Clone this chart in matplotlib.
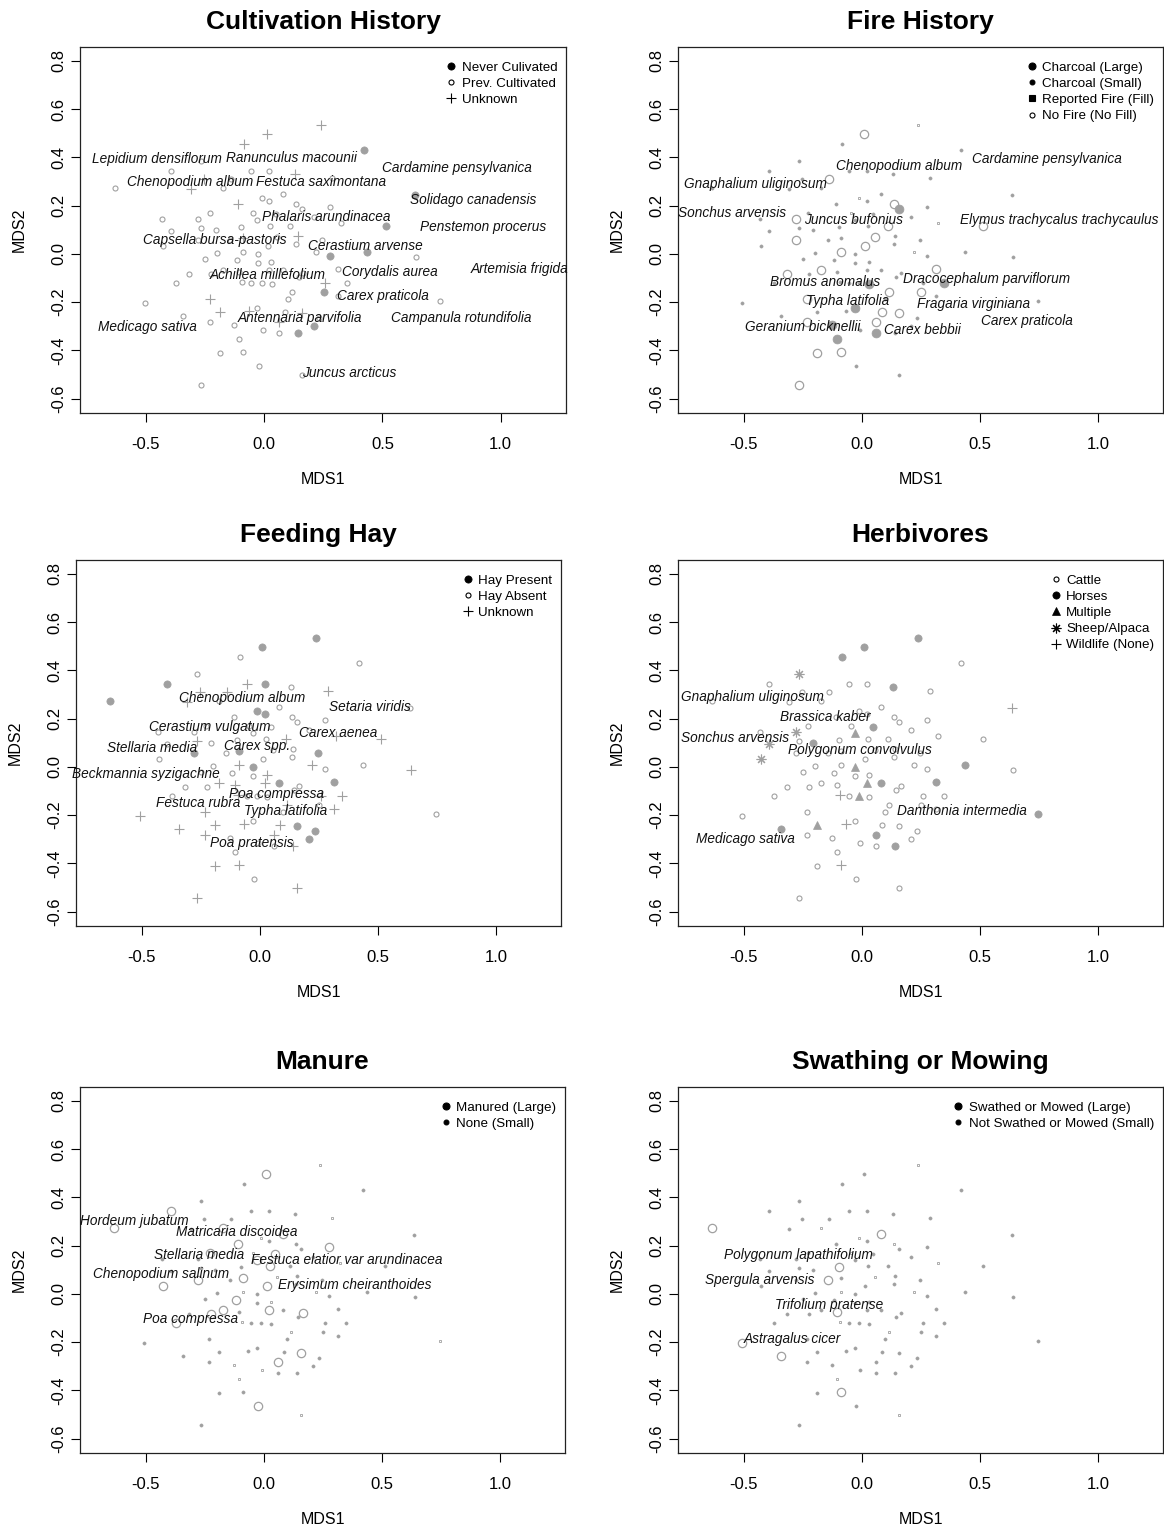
import matplotlib.pyplot as plt
from matplotlib.lines import Line2D

plt.rcParams['font.family'] = ['Liberation Sans', 'DejaVu Sans']

# site scores (MDS1, MDS2), same ordination in every panel
site_x = [0.240, 0.010, -0.085, 0.422, -0.267, -0.394, -0.054, 0.020, 0.130, -0.255,
          -0.140, 0.288, -0.633, -0.309, -0.175, 0.080, -0.011, 0.020, 0.636, -0.109,
          0.135, 0.159, 0.276, -0.230, -0.048, -0.432, -0.279, 0.049, -0.030, 0.209,
          0.324, 0.513, -0.097, 0.025, 0.110, -0.394, -0.267, -0.206, -0.279, -0.145,
          -0.089, 0.056, 0.141, 0.245, -0.427, 0.014, 0.135, -0.199, -0.089, -0.028,
          0.220, 0.276, 0.436, 0.642, -0.250, -0.116, -0.028, 0.030, -0.316, -0.226,
          -0.175, -0.107, 0.020, 0.080, 0.166, 0.145, 0.313, -0.372, -0.093, -0.054,
          -0.011, 0.031, 0.258, 0.350, 0.117, 0.251, 0.099, 0.313, -0.231, -0.506,
          0.745, -0.344, -0.189, -0.066, -0.030, 0.086, 0.159, -0.231, 0.062, -0.127,
          -0.006, 0.233, 0.209, 0.062, 0.141, -0.107, -0.189, -0.090, -0.023, 0.159, -0.267]
site_y = [0.534, 0.498, 0.456, 0.431, 0.384, 0.343, 0.344, 0.344, 0.332, 0.308,
          0.308, 0.312, 0.271, 0.267, 0.271, 0.249, 0.230, 0.220, 0.242, 0.206,
          0.206, 0.184, 0.194, 0.170, 0.169, 0.145, 0.145, 0.163, 0.140, 0.152,
          0.127, 0.115, 0.111, 0.116, 0.115, 0.093, 0.106, 0.100, 0.059, 0.059,
          0.065, 0.071, 0.075, 0.055, 0.033, 0.033, 0.039, 0.003, 0.008, -0.003,
          0.008, -0.008, 0.008, -0.014, -0.021, -0.026, -0.039, -0.033, -0.082, -0.084,
          -0.066, -0.076, -0.068, -0.068, -0.080, -0.097, -0.064, -0.122, -0.116, -0.122,
          -0.122, -0.124, -0.122, -0.122, -0.158, -0.158, -0.189, -0.176, -0.188, -0.203,
          -0.194, -0.260, -0.241, -0.239, -0.224, -0.241, -0.246, -0.282, -0.283, -0.296,
          -0.314, -0.265, -0.301, -0.329, -0.330, -0.355, -0.413, -0.408, -0.467, -0.503, -0.545]

# per-site class codes for each panel
cultivation = ("UUUNPPPPUU" "PPPUPPPPNU" "PPPPPPPPPP" "PNPPPPPPPP" "UPUPPPPPPP"
               "PNNPPPPPPP" "PPPPPPPPPP" "PPUPPNPPUP" "PPUUPPUPUP" "PPNPNPPPPPP")
fire = ("qLssssssss" "Lsssssqsss" "LFssqsLsss" "qLssLsssLs" "sLsssLssLs"
        "qsssssssLs" "LsssssLsss" "sFsFLLssLs" "ssssFLLLLF" "sssFsFLLssL")
hay = ("HHAAAHUHAU" "UUHUAAHHAA" "AAAAAAAAAA" "UUAAUAUAHA" "HAAHAAAAUH"
       "UAAUAAAUAA" "UUUHAAHAUA" "AAUUUAAUUU" "AUUUAUHUUA" "AHHAUAUUAUU")
herbivores = ("HHHCSCCCHC" "CCCCCCCCWC" "CCCCCCSHMC" "CCCCCSCHCC" "CCCCSCCCCM"
              "CCHCCCCCCC" "CCMHCCHCWC" "MCCCCCCCCC" "HHMWCCCCHC" "CCCCHCCWCCC")
manure = ("qOsssOssss" "sqOsOOqssO" "ssOOqssOOs" "qssOssssOs" "OqssOOssqs"
          "qssssOsqsO" "OsOsOssOqs" "ssssqsssss" "qsssssOsOq" "qssssqssOqs")
mowing = ("qsssssssss" "ssOsqOqsss" "qsssqsssss" "qsOssssssO" "sqssssssqs"
          "qsssssssss" "sOssssssqs" "ssssqssssO" "sOssssssss" "sssssqsOsqs")

# species labels (name, MDS1, MDS2)
cult_species = [("Lepidium densiflorum", -0.454, 0.391), ("Ranunculus macounii", 0.116, 0.395),
                ("Cardamine pensylvanica", 0.814, 0.354), ("Chenopodium album", -0.315, 0.296),
                ("Festuca saximontana", 0.240, 0.296), ("Solidago canadensis", 0.883, 0.221),
                ("Phalaris arundinacea", 0.264, 0.152), ("Penstemon procerus", 0.925, 0.113),
                ("Capsella bursa-pastoris", -0.207, 0.055), ("Cerastium arvense", 0.429, 0.033),
                ("Corydalis aurea", 0.532, -0.075), ("Artemisia frigida", 1.078, -0.065),
                ("Achillea millefolium", 0.014, -0.086), ("Carex praticola", 0.502, -0.174),
                ("Antennaria parvifolia", 0.150, -0.267), ("Campanula rotundifolia", 0.832, -0.267),
                ("Medicago sativa", -0.492, -0.303), ("Juncus arcticus", 0.360, -0.494)]
fire_species = [("Chenopodium album", 0.157, 0.364), ("Cardamine pensylvanica", 0.784, 0.391),
                ("Gnaphalium uliginosum", -0.453, 0.290), ("Sonchus arvensis", -0.549, 0.170),
                ("Juncus bufonius", -0.034, 0.142), ("Elymus trachycalus trachycaulus", 0.836, 0.138),
                ("Bromus anomalus", -0.157, -0.115), ("Dracocephalum parviflorum", 0.530, -0.106),
                ("Typha latifolia", -0.061, -0.194), ("Fragaria virginiana", 0.472, -0.210),
                ("Carex praticola", 0.701, -0.277), ("Geranium bicknellii", -0.251, -0.304),
                ("Carex bebbii", 0.258, -0.318)]
hay_species = [("Chenopodium album", -0.073, 0.286), ("Setaria viridis", 0.467, 0.249),
               ("Cerastium vulgatum", -0.213, 0.166), ("Carex aenea", 0.333, 0.138),
               ("Stellaria media", -0.456, 0.079), ("Carex spp.", -0.013, 0.087),
               ("Beckmannia syzigachne", -0.482, -0.032), ("Poa compressa", 0.071, -0.111),
               ("Festuca rubra", -0.260, -0.152), ("Typha latifolia", 0.111, -0.184),
               ("Poa pratensis", -0.032, -0.317)]
herb_species = [("Gnaphalium uliginosum", -0.464, 0.290), ("Brassica kaber", -0.155, 0.207),
                ("Sonchus arvensis", -0.537, 0.120), ("Polygonum convolvulus", -0.007, 0.069),
                ("Danthonia intermedia", 0.422, -0.184), ("Medicago sativa", -0.492, -0.300)]
manure_species = [("Hordeum jubatum", -0.549, 0.301), ("Matricaria discoidea", -0.113, 0.257),
                  ("Stellaria media", -0.274, 0.160), ("Festuca elatior var arundinacea", 0.353, 0.138),
                  ("Chenopodium salinum", -0.437, 0.082), ("Erysimum cheiranthoides", 0.384, 0.036),
                  ("Poa compressa", -0.312, -0.106)]
mow_species = [("Polygonum lapathifolium", -0.269, 0.160), ("Spergula arvensis", -0.433, 0.055),
               ("Trifolium pratense", -0.138, -0.047), ("Astragalus cicer", -0.296, -0.189)]

GREY = '#a0a0a0'
W, H = 1164, 1530


def mk(marker, ms, fill, color, mew=0.8):
    return dict(marker=marker, markersize=ms, markerfacecolor=color if fill else 'none',
                markeredgecolor=color, markeredgewidth=mew, linestyle='none')


def marks(color):
    return {'fill': mk('o', 5.2, True, color, 0.5),
            'open': mk('o', 3.6, False, color, 0.8),
            'plus': mk('+', 7.5, False, color, 0.8),
            'bigopen': mk('o', 6.0, False, color, 0.9),
            'bigfill': mk('o', 6.4, True, color, 0.5),
            'dot': mk('o', 2.3, True, color, 0.4),
            'sq': mk('s', 1.9, False, color, 0.6),
            'tri': mk('^', 5.6, True, color, 0.5),
            'ast': mk((8, 2, 0), 7.0, False, color, 0.8)}


pts = marks(GREY)
blk = marks('black')

panels = [
    ((80, 47, 566, 413), "Cultivation History", cultivation,
     {'N': 'fill', 'P': 'open', 'U': 'plus'}, cult_species,
     [("Never Culivated", blk['fill']), ("Prev. Cultivated", blk['open']), ("Unknown", blk['plus'])]),
    ((678, 47, 1163, 413), "Fire History", fire,
     {'L': 'bigopen', 'F': 'bigfill', 's': 'dot', 'q': 'sq'}, fire_species,
     [("Charcoal (Large)", mk('o', 5.0, True, 'black')), ("Charcoal (Small)", mk('o', 3.5, True, 'black')),
      ("Reported Fire (Fill)", mk('s', 4.5, True, 'black')), ("No Fire (No Fill)", blk['open'])]),
    ((76, 560, 561, 926), "Feeding Hay", hay,
     {'H': 'fill', 'A': 'open', 'U': 'plus'}, hay_species,
     [("Hay Present", blk['fill']), ("Hay Absent", blk['open']), ("Unknown", blk['plus'])]),
    ((678, 560, 1163, 926), "Herbivores", herbivores,
     {'C': 'open', 'H': 'fill', 'M': 'tri', 'S': 'ast', 'W': 'plus'}, herb_species,
     [("Cattle", blk['open']), ("Horses", blk['fill']), ("Multiple", blk['tri']),
      ("Sheep/Alpaca", blk['ast']), ("Wildlife (None)", blk['plus'])]),
    ((80, 1087, 565, 1453), "Manure", manure,
     {'O': 'bigopen', 's': 'dot', 'q': 'sq'}, manure_species,
     [("Manured (Large)", mk('o', 5.0, True, 'black')), ("None (Small)", mk('o', 3.5, True, 'black'))]),
    ((678, 1087, 1163, 1453), "Swathing or Mowing", mowing,
     {'O': 'bigopen', 's': 'dot', 'q': 'sq'}, mow_species,
     [("Swathed or Mowed (Large)", mk('o', 5.0, True, 'black')),
      ("Not Swathed or Mowed (Small)", mk('o', 3.5, True, 'black'))]),
]

fig = plt.figure(figsize=(W / 100, H / 100), dpi=100)

for (l, t, r, b), title, codes, style_map, species, legend_items in panels:
    ax = fig.add_axes([l / W, 1 - b / H, (r - l) / W, (b - t) / H])
    for code, style in style_map.items():
        xs = [x for x, c in zip(site_x, codes) if c == code]
        ys = [y for y, c in zip(site_y, codes) if c == code]
        ax.plot(xs, ys, **pts[style])
    for name, x, y in species:
        ax.text(x, y, name, ha='center', va='center', style='italic', fontsize=9.8,
                color='#111111', zorder=5, clip_on=False)

    ax.set_xlim(-0.779, 1.276)
    ax.set_ylim(-0.660, 0.857)
    ax.set_xticks([-0.5, 0.0, 0.5, 1.0])
    ax.set_xticklabels(['-0.5', '0.0', '0.5', '1.0'])
    ax.set_yticks([-0.6, -0.4, -0.2, 0.0, 0.2, 0.4, 0.6, 0.8])
    ax.set_yticklabels(['-0.6', '-0.4', '-0.2', '0.0', '0.2', '0.4', '0.6', '0.8'],
                       rotation=90, va='center')
    ax.tick_params(axis='x', direction='out', length=6.5, width=0.8, labelsize=12, pad=11)
    ax.tick_params(axis='y', direction='out', length=6.5, width=0.8, labelsize=12, pad=3.5)
    for sp in ax.spines.values():
        sp.set_linewidth(0.9)
        sp.set_color('#222222')

    ax.set_xlabel('MDS1', fontsize=11.5)
    ax.set_ylabel('MDS2', fontsize=11.5)
    ax.xaxis.label.set_va('center')
    ax.yaxis.label.set_va('center')
    ax.xaxis.set_label_coords(0.5, -67 / (b - t))
    ax.yaxis.set_label_coords(-61 / (r - l), 0.5)

    ax.text(0.5, 1 + 25 / (b - t), title, transform=ax.transAxes, ha='center', va='center',
            fontsize=19, fontweight='bold')

    handles = [Line2D([], [], **st) for _, st in legend_items]
    ax.legend(handles, [lab for lab, _ in legend_items], loc='upper right',
              bbox_to_anchor=(1 + 6 / (r - l), 1), frameon=False,
              fontsize=9.6, handlelength=1.0, handletextpad=0.3, labelspacing=0.28,
              borderaxespad=0.2, borderpad=0.9)

fig.savefig('out.png', dpi=100)
